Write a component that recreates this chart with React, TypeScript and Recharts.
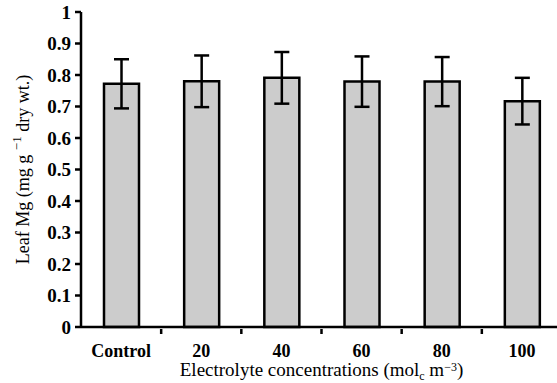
import { BarChart, Bar, XAxis, YAxis, ErrorBar } from "recharts";

const categories = ["Control", "20", "40", "60", "80", "100"];
const leafMg = [0.772, 0.78, 0.791, 0.779, 0.779, 0.717];
const errors = [0.078, 0.082, 0.082, 0.08, 0.078, 0.074];
const yTicks = [0, 0.1, 0.2, 0.3, 0.4, 0.5, 0.6, 0.7, 0.8, 0.9, 1];

const data = categories.map((c, i) => ({
  name: c,
  mg: leafMg[i],
  err: errors[i],
}));

const FONT = "'Liberation Serif', 'Times New Roman', Times, serif";

// category label plus a small tick mark at the boundary to its right
function CatTick(props: any) {
  const { x, y, payload, index, width } = props;
  const half =
    payload && payload.offset ? payload.offset : width / categories.length / 2;
  const last = index === categories.length - 1;
  return (
    <g>
      {!last && (
        <line
          x1={x + half}
          x2={x + half}
          y1={y}
          y2={y + 5}
          stroke="#000"
          strokeWidth={2.5}
        />
      )}
      <text
        x={x}
        y={y + 15}
        dy="0.71em"
        textAnchor="middle"
        style={{ fontFamily: FONT, fontSize: 18, fontWeight: 700 }}
        fill="#000"
      >
        {payload.value}
      </text>
    </g>
  );
}

function YTick(props: any) {
  const { x, y, payload } = props;
  return (
    <text
      x={x}
      y={y}
      dy="0.355em"
      textAnchor="end"
      style={{ fontFamily: FONT, fontSize: 19, fontWeight: 700 }}
      fill="#000"
    >
      {String(payload.value)}
    </text>
  );
}

function YLabel(props: any) {
  const vb = props.viewBox || {};
  const cx = vb.x + 29;
  const cy = vb.y + vb.height / 2;
  return (
    <text
      x={cx}
      y={cy}
      transform={`rotate(-90, ${cx}, ${cy})`}
      textAnchor="middle"
      style={{ fontFamily: FONT, fontSize: 18 }}
      fill="#000"
    >
      <tspan>Leaf Mg (mg g </tspan>
      <tspan dy={-8} fontSize={13}>−1</tspan>
      <tspan dy={8}> dry wt.)</tspan>
    </text>
  );
}

function XLabel(props: any) {
  const vb = props.viewBox || {};
  const cx = vb.x + vb.width / 2;
  const cy = vb.y + 49;
  return (
    <text
      x={cx}
      y={cy}
      textAnchor="middle"
      style={{ fontFamily: FONT, fontSize: 19 }}
      fill="#000"
    >
      <tspan>Electrolyte concentrations (mol</tspan>
      <tspan dy={4} fontSize={12}>c</tspan>
      <tspan dy={-4}> m</tspan>
      <tspan dy={-5} fontSize={12}>−3</tspan>
      <tspan dy={5}>)</tspan>
    </text>
  );
}

export default function App() {
  return (
    <div
      style={{
        position: "absolute",
        left: 0,
        top: 0,
        width: 557,
        height: 383,
        overflow: "hidden",
        background: "#fff",
        fontFamily: FONT,
      }}
    >
      <BarChart
        width={570}
        height={383}
        data={data}
        margin={{ top: 12, right: 8, left: 0, bottom: 0 }}
      >
        <XAxis
          dataKey="name"
          height={56}
          tickLine={false}
          tickSize={0}
          interval={0}
          axisLine={{ stroke: "#000", strokeWidth: 2.5 }}
          tick={CatTick}
          label={XLabel}
        />
        <YAxis
          width={81}
          domain={[0, 1]}
          ticks={yTicks}
          interval={0}
          tickSize={6}
          tickMargin={4}
          axisLine={{ stroke: "#000", strokeWidth: 2.5 }}
          tickLine={{ stroke: "#000", strokeWidth: 2.5 }}
          tick={YTick}
          label={YLabel}
        />
        <Bar
          dataKey="mg"
          barSize={35}
          fill="#cccccc"
          stroke="#000"
          strokeWidth={2.5}
          isAnimationActive={false}
        >
          <ErrorBar
            dataKey="err"
            direction="y"
            width={7.5}
            stroke="#000"
            strokeWidth={2.5}
            isAnimationActive={false}
          />
        </Bar>
      </BarChart>
    </div>
  );
}
